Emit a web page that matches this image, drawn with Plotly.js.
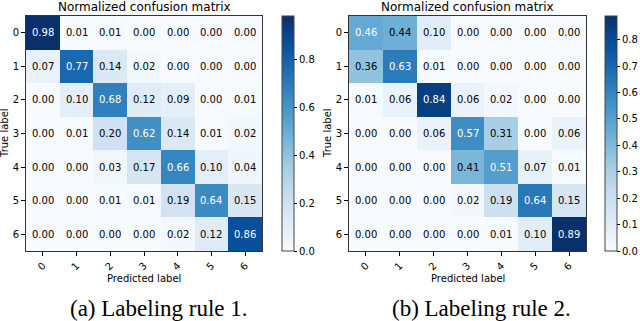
<!DOCTYPE html>
<html>
<head>
<meta charset="utf-8">
<script src="https://cdn.plot.ly/plotly-3.0.1.min.js"></script>
<style>
  html, body { margin: 0; padding: 0; background: #fff; }
  #plot { width: 640px; height: 321px; }
</style>
</head>
<body>
<div id="plot"></div>
<script>
// class labels
var classes = ['0', '1', '2', '3', '4', '5', '6'];

// (a) labeling rule 1
var cmRule1 = [
    [0.98, 0.01, 0.01, 0.00, 0.00, 0.00, 0.00],
    [0.07, 0.77, 0.14, 0.02, 0.00, 0.00, 0.00],
    [0.00, 0.10, 0.68, 0.12, 0.09, 0.00, 0.01],
    [0.00, 0.01, 0.20, 0.62, 0.14, 0.01, 0.02],
    [0.00, 0.00, 0.03, 0.17, 0.66, 0.10, 0.04],
    [0.00, 0.00, 0.01, 0.01, 0.19, 0.64, 0.15],
    [0.00, 0.00, 0.00, 0.00, 0.02, 0.12, 0.86]
];

// (b) labeling rule 2
var cmRule2 = [
    [0.46, 0.44, 0.10, 0.00, 0.00, 0.00, 0.00],
    [0.36, 0.63, 0.01, 0.00, 0.00, 0.00, 0.00],
    [0.01, 0.06, 0.84, 0.06, 0.02, 0.00, 0.00],
    [0.00, 0.00, 0.06, 0.57, 0.31, 0.00, 0.06],
    [0.00, 0.00, 0.00, 0.41, 0.51, 0.07, 0.01],
    [0.00, 0.00, 0.00, 0.02, 0.19, 0.64, 0.15],
    [0.00, 0.00, 0.00, 0.00, 0.01, 0.10, 0.89]
];

var captions = ['(a) Labeling rule 1.', '(b) Labeling rule 2.'];

// matplotlib "Blues"
var blues = [
    [0.000, '#f7fbff'], [0.125, '#deebf7'], [0.250, '#c6dbef'],
    [0.375, '#9ecae1'], [0.500, '#6baed6'], [0.625, '#4292c6'],
    [0.750, '#2171b5'], [0.875, '#08519c'], [1.000, '#08306b']
];

var W = 640, H = 321;
function px(x) { return x / W; }
function py(y) { return 1 - y / H; }

var font = 'DejaVu Sans, sans-serif';

function maxOf(m) {
    return Math.max.apply(null, m.map(function (r) { return Math.max.apply(null, r); }));
}

var panels = [
    { z: cmRule1, xa: 'x', ya: 'y', left: 26, right: 262, cbx: 282, dtick: 0.2 },
    { z: cmRule2, xa: 'x2', ya: 'y2', left: 349, right: 586, cbx: 605, dtick: 0.1 }
];
// pixel rows of the matrices (not "top": that name is window.top)
var plotTop = 16, plotBottom = 251;

var traces = [];
var annotations = [];
var layout = {
    width: W, height: H,
    margin: { l: 0, r: 0, t: 0, b: 0, autoexpand: false },
    paper_bgcolor: '#fff',
    plot_bgcolor: '#fff',
    font: { family: font, size: 10, color: '#000' },
    showlegend: false
};

panels.forEach(function (p, i) {
    var zmax = maxOf(p.z);
    traces.push({
        type: 'heatmap',
        z: p.z,
        x: classes,
        y: classes,
        xaxis: p.xa,
        yaxis: p.ya,
        zmin: 0,
        zmax: zmax,
        colorscale: blues,
        hoverinfo: 'skip',
        colorbar: {
            x: px(p.cbx), xanchor: 'left',
            y: py(plotBottom), yanchor: 'bottom',
            len: plotBottom - plotTop, lenmode: 'pixels',
            thickness: 12, thicknessmode: 'pixels',
            outlinewidth: 1, outlinecolor: '#444',
            ticks: 'outside', ticklen: 3, tickcolor: '#000',
            dtick: p.dtick, tick0: 0, tickformat: '.1f',
            tickfont: { family: font, size: 10, color: '#000' },
            xpad: 0, ypad: 0
        }
    });

    var axX = i === 0 ? 'xaxis' : 'xaxis2';
    var axY = i === 0 ? 'yaxis' : 'yaxis2';
    layout[axX] = {
        domain: [px(p.left), px(p.right)],
        anchor: p.ya,
        type: 'category',
        tickangle: -45,
        ticks: 'outside', ticklen: 4, tickcolor: '#000',
        showline: true, mirror: true, linecolor: '#333', linewidth: 1,
        showgrid: false, zeroline: false,
        tickfont: { family: font, size: 10, color: '#000' },
        automargin: false,
        fixedrange: true
    };
    layout[axY] = {
        domain: [py(plotBottom), py(plotTop)],
        anchor: p.xa,
        type: 'category',
        autorange: 'reversed',
        ticks: 'outside', ticklen: 4, tickcolor: '#000',
        showline: true, mirror: true, linecolor: '#333', linewidth: 1,
        showgrid: false, zeroline: false,
        tickfont: { family: font, size: 10, color: '#000' },
        automargin: false,
        fixedrange: true
    };

    // cell values
    p.z.forEach(function (row, r) {
        row.forEach(function (v, c) {
            annotations.push({
                xref: p.xa, yref: p.ya,
                x: classes[c], y: classes[r],
                text: v.toFixed(2),
                showarrow: false,
                font: { family: font, size: 10, color: v > zmax / 2 ? '#fff' : '#000' }
            });
        });
    });

    var cx = (p.left + p.right) / 2;
    annotations.push({
        xref: 'paper', yref: 'paper', x: px(cx), y: py(7),
        xanchor: 'center', yanchor: 'middle', showarrow: false,
        text: 'Normalized confusion matrix',
        font: { family: font, size: 12, color: '#000' }
    });
    annotations.push({
        xref: 'paper', yref: 'paper', x: px(cx), y: py(278),
        xanchor: 'center', yanchor: 'middle', showarrow: false,
        text: 'Predicted label',
        font: { family: font, size: 10, color: '#000' }
    });
    annotations.push({
        xref: 'paper', yref: 'paper', x: px(p.left - 21), y: py(133),
        xanchor: 'center', yanchor: 'middle', showarrow: false,
        textangle: -90,
        text: 'True label',
        font: { family: font, size: 10, color: '#000' }
    });
    annotations.push({
        xref: 'paper', yref: 'paper', x: px(i === 0 ? 159 : 481), y: py(308),
        xanchor: 'center', yanchor: 'middle', showarrow: false,
        text: captions[i],
        font: { family: 'Liberation Serif, Times New Roman, serif', size: 23, color: '#000' }
    });
});

layout.annotations = annotations;

Plotly.newPlot('plot', traces, layout, { displayModeBar: false, staticPlot: true });
</script>
</body>
</html>
